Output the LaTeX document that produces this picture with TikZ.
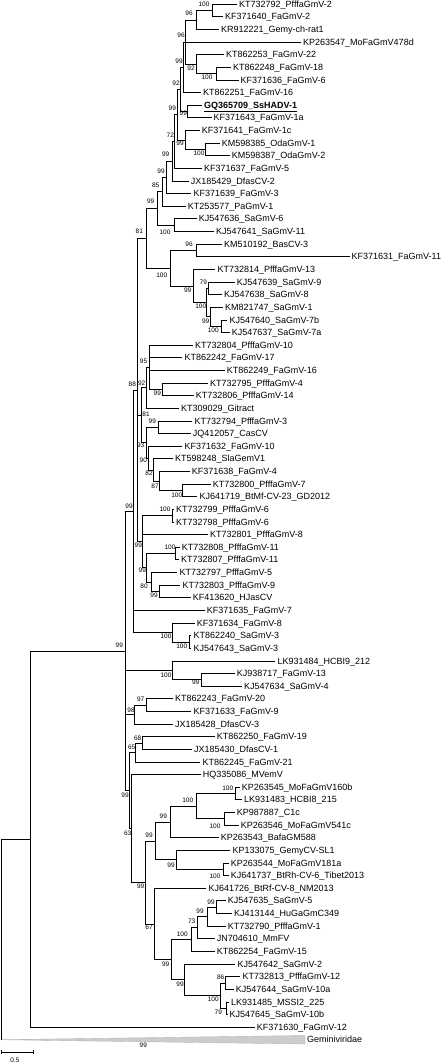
\documentclass[tikz,border=0pt]{standalone}
\usepackage{fontspec}
\setmainfont{Liberation Sans}
\begin{document}
\begin{tikzpicture}[x=1pt, y=-1pt,
  leaf/.style={anchor=west, inner xsep=2pt, inner ysep=0pt, text height=6.4pt, text depth=0pt, font=\fontsize{9}{9}\selectfont},
  boot/.style={inner sep=0pt, font=\fontsize{6.5}{6.5}\selectfont},
  branch/.style={line width=0.6pt}]
  \useasboundingbox (0,0) rectangle (442,1063);
  \node [leaf] (l1) at (237, 4.0) {KT732792\_PfffaGmV-2};
  \node [leaf] (l2) at (223, 16.6) {KF371640\_FaGmV-2};
  \node [leaf] (l3) at (219, 29.3) {KR912221\_Gemy-ch-rat1};
  \node [leaf] (l4) at (301, 41.9) {KP263547\_MoFaGmV478d};
  \node [leaf] (l5) at (224, 54.5) {KT862253\_FaGmV-22};
  \node [leaf] (l6) at (231, 67.2) {KT862248\_FaGmV-18};
  \node [leaf] (l7) at (238.5, 79.8) {KF371636\_FaGmV-6};
  \node [leaf] (l8) at (201, 92.4) {KT862251\_FaGmV-16};
  \node [leaf] (l9) at (202, 105.0) {\underline{\textbf{GQ365709\_SsHADV-1}}};
  \node [leaf] (l10) at (211.5, 117.7) {KF371643\_FaGmV-1a};
  \node [leaf] (l11) at (199.7, 130.3) {KF371641\_FaGmV-1c};
  \node [leaf] (l12) at (219.7, 142.9) {KM598385\_OdaGmV-1};
  \node [leaf] (l13) at (229.7, 155.6) {KM598387\_OdaGmV-2};
  \node [leaf] (l14) at (202, 168.2) {KF371637\_FaGmV-5};
  \node [leaf] (l15) at (188.7, 180.8) {JX185429\_DfasCV-2};
  \node [leaf] (l16) at (191.3, 193.5) {KF371639\_FaGmV-3};
  \node [leaf] (l17) at (185.7, 206.1) {KT253577\_PaGmV-1};
  \node [leaf] (l18) at (196.7, 218.7) {KJ547636\_SaGmV-6};
  \node [leaf] (l19) at (214, 231.3) {KJ547641\_SaGmV-11};
  \node [leaf] (l20) at (222, 244.0) {KM510192\_BasCV-3};
  \node [leaf] (l21) at (349.5, 256.6) {KF371631\_FaGmV-11};
  \node [leaf] (l22) at (215.3, 269.2) {KT732814\_PfffaGmV-13};
  \node [leaf] (l23) at (234.7, 281.9) {KJ547639\_SaGmV-9};
  \node [leaf] (l24) at (222, 294.5) {KJ547638\_SaGmV-8};
  \node [leaf] (l25) at (223, 307.1) {KM821747\_SaGmV-1};
  \node [leaf] (l26) at (227.3, 319.8) {KJ547640\_SaGmV-7b};
  \node [leaf] (l27) at (229.7, 332.4) {KJ547637\_SaGmV-7a};
  \node [leaf] (l28) at (193, 345.0) {KT732804\_PfffaGmV-10};
  \node [leaf] (l29) at (182.3, 357.6) {KT862242\_FaGmV-17};
  \node [leaf] (l30) at (224.7, 370.3) {KT862249\_FaGmV-16};
  \node [leaf] (l31) at (208, 382.9) {KT732795\_PfffaGmV-4};
  \node [leaf] (l32) at (193.7, 395.5) {KT732806\_PfffaGmV-14};
  \node [leaf] (l33) at (179, 408.2) {KT309029\_Gitract};
  \node [leaf] (l34) at (192.3, 420.8) {KT732794\_PfffaGmV-3};
  \node [leaf] (l35) at (190.7, 433.4) {JQ412057\_CasCV};
  \node [leaf] (l36) at (182.3, 446.1) {KF371632\_FaGmV-10};
  \node [leaf] (l37) at (173, 458.7) {KT598248\_SlaGemV1};
  \node [leaf] (l38) at (189.7, 471.3) {KF371638\_FaGmV-4};
  \node [leaf] (l39) at (210.7, 483.9) {KT732800\_PfffaGmV-7};
  \node [leaf] (l40) at (197.3, 496.6) {KJ641719\_BtMf-CV-23\_GD2012};
  \node [leaf] (l41) at (174, 509.2) {KT732799\_PfffaGmV-6};
  \node [leaf] (l42) at (174, 521.8) {KT732798\_PfffaGmV-6};
  \node [leaf] (l43) at (208, 534.5) {KT732801\_PfffaGmV-8};
  \node [leaf] (l44) at (179.7, 547.1) {KT732808\_PfffaGmV-11};
  \node [leaf] (l45) at (179, 559.7) {KT732807\_PfffaGmV-11};
  \node [leaf] (l46) at (177.3, 572.4) {KT732797\_PfffaGmV-5};
  \node [leaf] (l47) at (180.3, 585.0) {KT732803\_PfffaGmV-9};
  \node [leaf] (l48) at (190.7, 597.6) {KF413620\_HJasCV};
  \node [leaf] (l49) at (204.7, 610.2) {KF371635\_FaGmV-7};
  \node [leaf] (l50) at (194.7, 622.9) {KF371634\_FaGmV-8};
  \node [leaf] (l51) at (191.3, 635.5) {KT862240\_SaGmV-3};
  \node [leaf] (l52) at (191.3, 648.1) {KJ547643\_SaGmV-3};
  \node [leaf] (l53) at (275.3, 660.8) {LK931484\_HCBI9\_212};
  \node [leaf] (l54) at (234.7, 673.4) {KJ938717\_FaGmV-13};
  \node [leaf] (l55) at (242, 686.0) {KJ547634\_SaGmV-4};
  \node [leaf] (l56) at (173, 698.7) {KT862243\_FaGmV-20};
  \node [leaf] (l57) at (191.3, 711.3) {KF371633\_FaGmV-9};
  \node [leaf] (l58) at (173, 723.9) {JX185428\_DfasCV-3};
  \node [leaf] (l59) at (214.7, 736.5) {KT862250\_FaGmV-19};
  \node [leaf] (l60) at (192, 749.2) {JX185430\_DfasCV-1};
  \node [leaf] (l61) at (200.3, 761.8) {KT862245\_FaGmV-21};
  \node [leaf] (l62) at (200.7, 774.4) {HQ335086\_MVemV};
  \node [leaf] (l63) at (239.7, 787.1) {KP263545\_MoFaGmV160b};
  \node [leaf] (l64) at (242, 799.7) {LK931483\_HCBI8\_215};
  \node [leaf] (l65) at (234.7, 812.3) {KP987887\_C1c};
  \node [leaf] (l66) at (238.7, 825.0) {KP263546\_MoFaGmV541c};
  \node [leaf] (l67) at (218.7, 837.6) {KP263543\_BafaGM588};
  \node [leaf] (l68) at (230.3, 850.2) {KP133075\_GemyCV-SL1};
  \node [leaf] (l69) at (228.7, 862.8) {KP263544\_MoFaGmV181a};
  \node [leaf] (l70) at (228.7, 875.5) {KJ641737\_BtRh-CV-6\_Tibet2013};
  \node [leaf] (l71) at (206.3, 888.1) {KJ641726\_BtRf-CV-8\_NM2013};
  \node [leaf] (l72) at (225.7, 900.7) {KJ547635\_SaGmV-5};
  \node [leaf] (l73) at (232, 913.4) {KJ413144\_HuGaGmC349};
  \node [leaf] (l74) at (225.7, 926.0) {KT732790\_PfffaGmV-1};
  \node [leaf] (l75) at (214.7, 938.6) {JN704610\_MmFV};
  \node [leaf] (l76) at (214.7, 951.3) {KT862254\_FaGmV-15};
  \node [leaf] (l77) at (235.3, 963.9) {KJ547642\_SaGmV-2};
  \node [leaf] (l78) at (240.3, 976.5) {KT732813\_PfffaGmV-12};
  \node [leaf] (l79) at (233.7, 989.1) {KJ547644\_SaGmV-10a};
  \node [leaf] (l80) at (229, 1001.8) {LK931485\_MSSI2\_225};
  \node [leaf] (l81) at (227.3, 1014.4) {KJ547645\_SaGmV-10b};
  \node [leaf] (l82) at (254.7, 1027.0) {KF371630\_FaGmV-12};

  \coordinate (na) at (212.3, 10.3);
  \coordinate (nb) at (196, 19.8);
  \coordinate (nd) at (216, 73.5);
  \coordinate (nc) at (196.5, 64.0);
  \coordinate (ne) at (185.5, 41.9);
  \coordinate (nf) at (183, 67.2);
  \coordinate (p1) at (187.7, 111.4);
  \coordinate (ng) at (180.5, 89.3);
  \coordinate (p3) at (205.3, 149.3);
  \coordinate (p2) at (185, 139.8);
  \coordinate (nh) at (177, 114.6);
  \coordinate (ni) at (174, 141.4);
  \coordinate (nj) at (172, 161.1);
  \coordinate (nk) at (166.7, 177.3);
  \coordinate (nl) at (162.3, 191.7);
  \coordinate (nq) at (174, 225.0);
  \coordinate (nm) at (157.3, 208.4);
  \coordinate (nr) at (196, 250.3);
  \coordinate (ns) at (208.5, 288.2);
  \coordinate (nt) at (221.7, 326.1);
  \coordinate (nu) at (210, 316.6);
  \coordinate (nv) at (206.5, 302.4);
  \coordinate (nw) at (193.3, 285.8);
  \coordinate (nx) at (170.7, 268.1);
  \coordinate (no) at (146.7, 238.3);
  \coordinate (m1) at (162.3, 389.2);
  \coordinate (m2) at (149.3, 367.1);
  \coordinate (m3) at (146, 387.7);
  \coordinate (m4) at (158.3, 427.1);
  \coordinate (m5) at (182.7, 490.3);
  \coordinate (m6) at (159.3, 480.8);
  \coordinate (m7) at (153.3, 469.8);
  \coordinate (m8) at (148.3, 458.0);
  \coordinate (m9) at (146, 442.6);
  \coordinate (m10) at (141, 415.2);
  \coordinate (m11) at (172.3, 515.5);
  \coordinate (m12) at (175.7, 553.4);
  \coordinate (m13) at (159.3, 591.3);
  \coordinate (m14) at (151.3, 581.9);
  \coordinate (m15) at (146.7, 567.7);
  \coordinate (m16) at (142.7, 541.6);
  \coordinate (m17) at (137.7, 390.0);
  \coordinate (m18) at (189.3, 641.8);
  \coordinate (m19) at (172.7, 632.4);
  \coordinate (m20) at (133.3, 511.2);
  \coordinate (k1) at (201, 679.7);
  \coordinate (k2) at (172.7, 670.3);
  \coordinate (k3) at (146.7, 705.0);
  \coordinate (k4) at (134.3, 714.5);
  \coordinate (k5) at (142.3, 742.9);
  \coordinate (k6) at (135, 752.4);
  \coordinate (k7) at (235, 793.4);
  \coordinate (k8) at (224, 818.7);
  \coordinate (k9) at (196.7, 806.0);
  \coordinate (k10) at (170.7, 821.8);
  \coordinate (k11) at (223.3, 869.2);
  \coordinate (k12) at (176.7, 859.7);
  \coordinate (k13) at (155.3, 840.8);
  \coordinate (k14) at (216.7, 907.0);
  \coordinate (k15) at (207.3, 916.5);
  \coordinate (k16) at (197.7, 927.6);
  \coordinate (k17) at (191, 939.4);
  \coordinate (k18) at (225.7, 982.8);
  \coordinate (k19) at (226.7, 1008.1);
  \coordinate (k20) at (220, 995.4);
  \coordinate (k21) at (184.3, 979.7);
  \coordinate (k22) at (171, 959.6);
  \coordinate (k23) at (154, 923.9);
  \coordinate (k24) at (145, 882.3);
  \coordinate (k25) at (131.7, 828.4);
  \coordinate (k26) at (129, 790.4);
  \coordinate (nA) at (125, 650.8);
  \coordinate (n30) at (30, 838.9);
  \coordinate (root) at (1, 939.3);
  \coordinate (gapex) at (1, 1039.7);
  \coordinate (gtop) at (305, 1035.5);
  \coordinate (gbot) at (305, 1044);

  \filldraw [fill=gray!40, draw=gray!55, line width=0.4pt] (gapex) -- (gtop) -- (gbot) -- cycle;
  \node [leaf] (gem) at (305, 1039.7) {Geminiviridae};

  \draw [branch] (na) |- (l1.west) (na) |- (l2.west);
  \draw [branch] (nb) |- (na) (nb) |- (l3.west);
  \draw [branch] (nd) |- (l6.west) (nd) |- (l7.west);
  \draw [branch] (nc) |- (l5.west) (nc) |- (nd);
  \draw [branch] (ne) |- (nb) (ne) |- (l4.west) (ne) |- (nc);
  \draw [branch] (nf) |- (ne) (nf) |- (l8.west);
  \draw [branch] (p1) |- (l9.west) (p1) |- (l10.west);
  \draw [branch] (ng) |- (nf) (ng) |- (p1);
  \draw [branch] (p3) |- (l12.west) (p3) |- (l13.west);
  \draw [branch] (p2) |- (l11.west) (p2) |- (p3);
  \draw [branch] (nh) |- (ng) (nh) |- (p2);
  \draw [branch] (ni) |- (nh) (ni) |- (l14.west);
  \draw [branch] (nj) |- (ni) (nj) |- (l15.west);
  \draw [branch] (nk) |- (nj) (nk) |- (l16.west);
  \draw [branch] (nl) |- (nk) (nl) |- (l17.west);
  \draw [branch] (nq) |- (l18.west) (nq) |- (l19.west);
  \draw [branch] (nm) |- (nl) (nm) |- (nq);
  \draw [branch] (nr) |- (l20.west) (nr) |- (l21.west);
  \draw [branch] (ns) |- (l23.west) (ns) |- (l24.west);
  \draw [branch] (nt) |- (l26.west) (nt) |- (l27.west);
  \draw [branch] (nu) |- (l25.west) (nu) |- (nt);
  \draw [branch] (nv) |- (ns) (nv) |- (nu);
  \draw [branch] (nw) |- (l22.west) (nw) |- (nv);
  \draw [branch] (nx) |- (nr) (nx) |- (nw);
  \draw [branch] (no) |- (nm) (no) |- (nx);
  \draw [branch] (m1) |- (l31.west) (m1) |- (l32.west);
  \draw [branch] (m2) |- (l28.west) (m2) |- (l29.west) (m2) |- (l30.west) (m2) |- (m1);
  \draw [branch] (m3) |- (m2) (m3) |- (l33.west);
  \draw [branch] (m4) |- (l34.west) (m4) |- (l35.west);
  \draw [branch] (m5) |- (l39.west) (m5) |- (l40.west);
  \draw [branch] (m6) |- (l38.west) (m6) |- (m5);
  \draw [branch] (m7) |- (l37.west) (m7) |- (m6);
  \draw [branch] (m8) |- (l36.west) (m8) |- (m7);
  \draw [branch] (m9) |- (m4) (m9) |- (m8);
  \draw [branch] (m10) |- (m3) (m10) |- (m9);
  \draw [branch] (m11) |- (l41.west) (m11) |- (l42.west);
  \draw [branch] (m12) |- (l44.west) (m12) |- (l45.west);
  \draw [branch] (m13) |- (l47.west) (m13) |- (l48.west);
  \draw [branch] (m14) |- (l46.west) (m14) |- (m13);
  \draw [branch] (m15) |- (m12) (m15) |- (m14);
  \draw [branch] (m16) |- (m11) (m16) |- (l43.west) (m16) |- (m15);
  \draw [branch] (m17) |- (no) (m17) |- (m10) (m17) |- (m16);
  \draw [branch] (m18) |- (l51.west) (m18) |- (l52.west);
  \draw [branch] (m19) |- (l50.west) (m19) |- (m18);
  \draw [branch] (m20) |- (m17) (m20) |- (l49.west) (m20) |- (m19);
  \draw [branch] (k1) |- (l54.west) (k1) |- (l55.west);
  \draw [branch] (k2) |- (l53.west) (k2) |- (k1);
  \draw [branch] (k3) |- (l56.west) (k3) |- (l57.west);
  \draw [branch] (k4) |- (k3) (k4) |- (l58.west);
  \draw [branch] (k5) |- (l59.west) (k5) |- (l60.west);
  \draw [branch] (k6) |- (k5) (k6) |- (l61.west);
  \draw [branch] (k7) |- (l63.west) (k7) |- (l64.west);
  \draw [branch] (k8) |- (l65.west) (k8) |- (l66.west);
  \draw [branch] (k9) |- (k7) (k9) |- (k8);
  \draw [branch] (k10) |- (k9) (k10) |- (l67.west);
  \draw [branch] (k11) |- (l69.west) (k11) |- (l70.west);
  \draw [branch] (k12) |- (l68.west) (k12) |- (k11);
  \draw [branch] (k13) |- (k10) (k13) |- (k12);
  \draw [branch] (k14) |- (l72.west) (k14) |- (l73.west);
  \draw [branch] (k15) |- (k14) (k15) |- (l74.west);
  \draw [branch] (k16) |- (k15) (k16) |- (l75.west);
  \draw [branch] (k17) |- (k16) (k17) |- (l76.west);
  \draw [branch] (k18) |- (l78.west) (k18) |- (l79.west);
  \draw [branch] (k19) |- (l80.west) (k19) |- (l81.west);
  \draw [branch] (k20) |- (k18) (k20) |- (k19);
  \draw [branch] (k21) |- (l77.west) (k21) |- (k20);
  \draw [branch] (k22) |- (k17) (k22) |- (k21);
  \draw [branch] (k23) |- (l71.west) (k23) |- (k22);
  \draw [branch] (k24) |- (k13) (k24) |- (k23);
  \draw [branch] (k25) |- (l62.west) (k25) |- (k24);
  \draw [branch] (k26) |- (k6) (k26) |- (k25);
  \draw [branch] (nA) |- (m20) (nA) |- (k2) (nA) |- (k4) (nA) |- (k26);
  \draw [branch] (n30) |- (nA) (n30) |- (l82.west);
  \draw [branch] (root) |- (n30) (root) |- (gapex);

  \node [boot] (bna) at (204, 4) {100};
  \node [boot] (bnb) at (189, 13) {96};
  \node [boot] (bne) at (181, 35) {96};
  \node [boot] (bnc) at (191, 68) {92};
  \node [boot] (bnd) at (207, 77) {100};
  \node [boot] (bnf) at (179, 61) {99};
  \node [boot] (bng) at (176, 83) {92};
  \node [boot] (bnh) at (172.3, 108.5) {99};
  \node [boot] (bp1) at (183.3, 113.3) {99};
  \node [boot] (bp2) at (180, 143) {99};
  \node [boot] (bp3) at (199, 153) {100};
  \node [boot] (bni) at (170.3, 135.7) {72};
  \node [boot] (bnj) at (165.7, 154.3) {99};
  \node [boot] (bnk) at (161, 171) {99};
  \node [boot] (bnl) at (155.7, 185) {85};
  \node [boot] (bnm) at (150.7, 201) {99};
  \node [boot] (bnq) at (165, 232.7) {100};
  \node [boot] (bno) at (139.3, 231.7) {81};
  \node [boot] (bnr) at (189, 244) {96};
  \node [boot] (bnx) at (161.7, 275.7) {100};
  \node [boot] (bns) at (203.3, 282.3) {79};
  \node [boot] (bnw) at (187.7, 290) {99};
  \node [boot] (bnv) at (200.7, 306.7) {100};
  \node [boot] (bnu) at (205.7, 321) {99};
  \node [boot] (bnt) at (213.3, 330.7) {100};
  \node [boot] (bm2) at (143.5, 361.7) {95};
  \node [boot] (bm17) at (132.3, 384) {88};
  \node [boot] (bm3) at (141.7, 383) {92};
  \node [boot] (bm1) at (157.3, 393.3) {99};
  \node [boot] (bm10) at (146, 414.3) {81};
  \node [boot] (bm4) at (152.3, 421.7) {99};
  \node [boot] (bm9) at (140.7, 445) {93};
  \node [boot] (bm8) at (143.3, 460) {90};
  \node [boot] (bm7) at (149, 473.3) {82};
  \node [boot] (bm6) at (155, 486.7) {87};
  \node [boot] (bm5) at (176.7, 495) {100};
  \node [boot] (bm20) at (129, 506) {99};
  \node [boot] (bm11) at (165, 509.3) {100};
  \node [boot] (bm16) at (138.3, 545) {99};
  \node [boot] (bm12) at (170, 547.7) {100};
  \node [boot] (bm15) at (142.3, 570.7) {99};
  \node [boot] (bm14) at (144, 586) {80};
  \node [boot] (bm13) at (154, 595.7) {99};
  \node [boot] (bm19) at (166, 636) {100};
  \node [boot] (bm18) at (181.7, 646) {100};
  \node [boot] (bnA) at (119.3, 645) {99};
  \node [boot] (bk2) at (166, 675) {100};
  \node [boot] (bk1) at (195.7, 682.7) {99};
  \node [boot] (bk3) at (140.7, 699.3) {97};
  \node [boot] (bk4) at (131, 710) {98};
  \node [boot] (bk5) at (137.7, 738) {68};
  \node [boot] (bk6) at (131.7, 747.5) {65};
  \node [boot] (bk7) at (227.7, 788.3) {100};
  \node [boot] (bk26) at (125, 795) {99};
  \node [boot] (bk9) at (187.7, 800) {100};
  \node [boot] (bk10) at (163.3, 816.7) {99};
  \node [boot] (bk8) at (215, 826.7) {100};
  \node [boot] (bk25) at (127.7, 833.3) {63};
  \node [boot] (bk13) at (149, 835) {99};
  \node [boot] (bk12) at (171, 865) {99};
  \node [boot] (bk11) at (215, 876.7) {100};
  \node [boot] (bk24) at (140.7, 886.7) {99};
  \node [boot] (bk14) at (211, 902.3) {99};
  \node [boot] (bk15) at (200, 911) {99};
  \node [boot] (bk16) at (191.7, 921.7) {73};
  \node [boot] (bk23) at (149, 927.3) {67};
  \node [boot] (bk17) at (182.3, 934.3) {100};
  \node [boot] (bk22) at (165.7, 964) {99};
  \node [boot] (bk18) at (220.7, 977.7) {86};
  \node [boot] (bk21) at (180, 984.3) {99};
  \node [boot] (bk20) at (213.3, 999.3) {100};
  \node [boot] (bk19) at (218.3, 1012.3) {79};
  \node [boot] (broot) at (143.3, 1045.7) {99};

  \coordinate (sbl) at (1, 1052.3);
  \coordinate (sbr) at (33.3, 1052.3);
  \draw [branch] (sbl) -- (sbr);
  \draw [branch] ([yshift=2pt]sbl) -- ([yshift=-2pt]sbl);
  \draw [branch] ([yshift=2pt]sbr) -- ([yshift=-2pt]sbr);
  \node [boot] (sbtext) at (15, 1060) {0.5};
\end{tikzpicture}
\end{document}
